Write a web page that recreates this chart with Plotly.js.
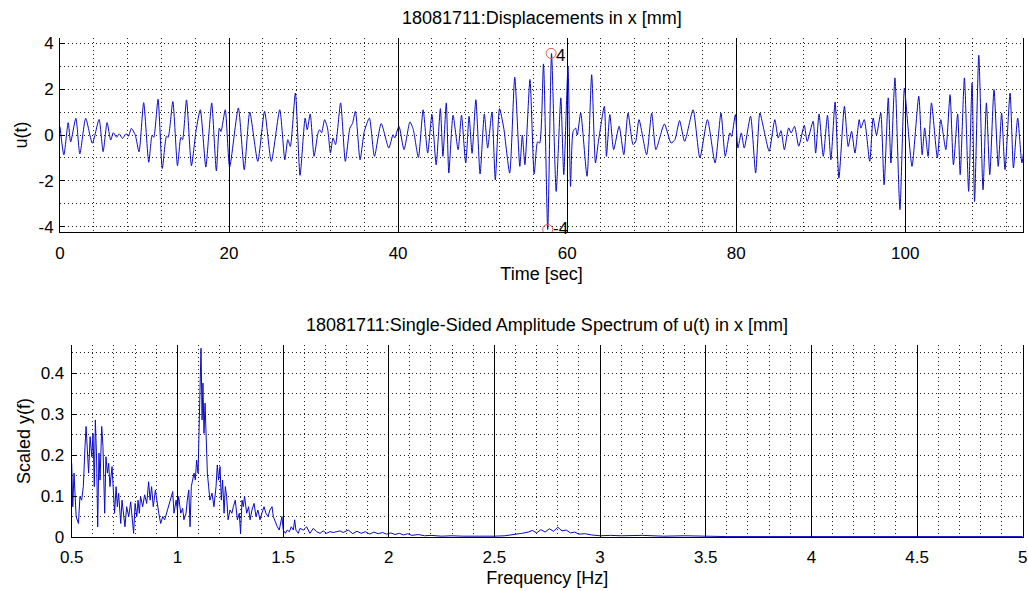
<!DOCTYPE html>
<html>
<head>
<meta charset="utf-8">
<script src="https://cdn.plot.ly/plotly-3.0.1.min.js"></script>
<style>html,body{margin:0;padding:0;background:#fff;}#chart{width:1028px;height:591px;}</style>
</head>
<body>
<div id="chart"></div>
<script>
// ---------- Displacement time history (peaks/troughs) ----------
const timeSec = [0,0.46,0.97,1.26,1.88,2.35,3.04,3.83,4.62,5.1,5.57,6.0,6.3,6.7,7.0,7.4,7.8,8.1,8.44,8.9,
9.35,9.9,10.5,10.9,11.1,11.6,12.1,12.6,12.8,13.35,13.9,14.3,14.5,14.97,15.55,16.1,16.6,17.25,17.6,17.95,
18.5,18.85,19.05,19.55,20.07,21.1,21.8,22.45,23.4,24.2,25.0,26.0,26.6,26.95,27.25,27.85,28.4,29.0,29.25,29.6,
30.06,30.5,30.7,30.95,31.3,31.65,32.0,32.3,32.6,33.2,33.76,34.3,34.6,34.95,35.5,36.0,36.6,37.2,38.0,38.9,
39.4,39.6,40.1,40.7,41.4,41.8,42.4,42.96,43.5,44.0,44.5,45.0,45.3,45.7,46.0,46.5,47.1,47.5,48.0,48.4,
48.75,49.2,49.7,50.2,50.6,51.1,51.5,52.0,52.5,53.2,53.8,54.4,54.7,55.0,55.6,56.1,56.5,56.75,57.2,57.7,
58.15,58.7,59.25,59.6,60.1,60.4,60.7,61.0,61.2,61.6,62.35,62.9,63.35,63.7,64.4,64.65,65.05,65.5,66.15,66.7,
67.2,67.8,68.1,68.5,69.4,70.0,70.5,71.5,72.3,72.75,73.3,73.9,74.9,75.7,76.6,77.5,78.2,78.7,79.25,79.45,
79.9,80.2,80.6,80.95,81.7,82.3,82.8,83.4,83.9,84.57,84.97,85.3,85.7,86.2,86.5,86.9,87.4,88.05,88.4,89.1,
89.4,89.8,90.3,90.8,91.2,91.7,92.15,92.8,93.25,93.65,94.05,94.55,94.75,95.15,95.8,96.2,96.6,97.1,97.5,97.99,
98.3,98.78,99.37,99.9,100.3,100.8,101.6,102.0,102.3,102.7,103.1,103.8,104.2,104.8,105.3,105.7,106.2,106.5,107.0,107.5,
107.9,108.2,108.7,109.2,109.6,110.0,110.5,111.0,111.4,111.8,112.4,112.8,113.3,113.8,114.1];
const dispX = [0.36,-0.87,0.54,-0.3,0.73,-0.83,0.73,-0.36,0.68,-0.73,0.54,-0.22,0.1,-0.1,0.05,-0.15,0.05,-0.05,0.29,0.0,
-0.73,1.41,-1.19,0.0,-0.1,1.56,-1.46,-0.05,-0.1,1.46,-1.34,-0.1,-0.2,1.53,-1.34,0.2,1.1,-1.4,0.0,1.4,
-1.57,0.3,0.15,1.1,-1.4,1.18,-1.51,1.0,-1.15,1.03,-1.15,1.1,-1.08,-0.2,-0.5,1.83,-1.76,0.74,0.23,0.92,
-0.93,0.05,0.23,0.1,0.67,0.3,-0.79,-0.13,-0.42,1.4,-1.15,0.3,0.5,1.03,-1.08,0.15,0.74,-0.93,0.5,-0.57,
0.01,-0.13,0.38,-0.64,0.57,0.23,-0.98,1.1,-0.79,0.89,-1.3,1.15,-0.93,1.4,-1.66,0.86,-0.64,0.86,-1.22,0.82,
-0.8,1.54,-1.7,0.92,-0.57,1.0,-1.95,1.15,0.3,-1.66,2.52,-1.37,0.0,-1.3,2.42,-1.7,-0.3,-0.35,3.1,-4.12,
3.55,-2.46,1.62,-1.73,3.0,-2.24,0.15,0.3,0.0,0.96,-1.8,2.63,-1.22,-0.28,1.25,-0.93,0.89,-0.64,0.38,-0.86,
0.96,-0.42,-0.3,0.67,-0.86,0.96,-0.64,0.48,-0.35,-0.2,0.63,-0.28,1.1,-1.0,0.67,-1.22,0.96,-0.93,0.09,-0.06,
0.89,-0.57,0.09,-0.57,0.82,-1.66,0.96,0.01,-0.71,0.67,-0.13,0.19,-0.64,0.31,0.09,0.38,-0.49,0.42,-0.28,0.6,
-0.79,0.92,-0.93,0.86,-1.08,1.44,-1.88,1.25,-0.5,0.16,-0.79,0.67,0.3,0.67,-1.15,0.74,0.0,0.96,-2.17,1.62,
-1.22,2.49,-3.26,2.05,0.45,-1.37,1.69,-0.86,0.31,-0.93,1.4,-1.0,0.67,-0.64,1.76,-1.3,0.92,-1.73,2.49,-2.46,
2.27,-2.9,3.48,-2.39,1.4,-1.73,1.98,-1.37,0.96,-1.51,1.83,-1.44,0.74,-1.22,-0.42];

// extreme-value markers
const extremeT = [58.1, 57.7];
const extremeU = [3.56, -4.12];
const extremeLabels = ["4", "-4"];
const extremeLabelT = [58.55, 58.15];
const extremeLabelU = [3.48, -4.06];

// ---------- Single-sided amplitude spectrum ----------
const freqHz = [0.500,0.505,0.511,0.521,0.532,0.539,0.547,0.555,0.563,0.568,0.574,0.580,0.587,0.595,0.601,0.607,0.612,0.618,0.623,0.629,
0.634,0.642,0.648,0.656,0.662,0.669,0.675,0.681,0.691,0.697,0.703,0.710,0.716,0.722,0.732,0.738,0.744,0.752,0.760,0.770,
0.779,0.785,0.793,0.800,0.808,0.814,0.820,0.826,0.836,0.845,0.855,0.864,0.871,0.878,0.886,0.896,0.902,0.912,0.921,0.931,
0.940,0.949,0.959,0.968,0.978,0.984,0.994,1.000,1.006,1.016,1.025,1.031,1.041,1.047,1.054,1.060,1.066,1.072,1.079,1.085,
1.091,1.098,1.104,1.109,1.112,1.117,1.121,1.126,1.131,1.136,1.142,1.148,1.154,1.164,1.173,1.183,1.189,1.195,1.202,1.208,
1.214,1.221,1.227,1.233,1.240,1.249,1.258,1.265,1.274,1.284,1.293,1.299,1.306,1.312,1.318,1.328,1.337,1.344,1.353,1.363,
1.372,1.381,1.391,1.400,1.410,1.419,1.429,1.438,1.448,1.454,1.463,1.473,1.482,1.490,1.495,1.501,1.511,1.520,1.530,1.539,
1.549,1.555,1.561,1.572,1.580,1.596,1.612,1.627,1.643,1.659,1.675,1.690,1.706,1.722,1.738,1.754,1.769,1.785,1.809,1.83,
1.85,1.87,1.89,1.91,1.93,1.95,1.97,1.99,2.01,2.03,2.05,2.07,2.09,2.11,2.14,2.17,2.2,2.25,2.3,2.35,
2.4,2.45,2.5,2.55,2.6,2.63,2.66,2.68,2.7,2.72,2.74,2.76,2.78,2.8,2.82,2.84,2.86,2.88,2.9,2.93,
2.96,3.0,3.05,3.1,3.2,3.3,3.4,3.5,3.6,3.8,4.0,4.5,5.0];
const ampScaled = [0.180,0.074,0.156,0.050,0.033,0.099,0.090,0.123,0.221,0.270,0.213,0.156,0.245,0.196,0.253,0.123,0.286,0.188,0.025,0.205,
0.139,0.270,0.221,0.058,0.196,0.156,0.180,0.123,0.172,0.107,0.058,0.123,0.074,0.107,0.033,0.090,0.066,0.025,0.074,0.050,
0.086,0.058,0.009,0.082,0.050,0.090,0.058,0.099,0.074,0.103,0.082,0.135,0.090,0.123,0.074,0.115,0.090,0.058,0.033,0.050,
0.042,0.058,0.074,0.090,0.111,0.058,0.090,0.066,0.099,0.058,0.070,0.042,0.058,0.090,0.115,0.025,0.123,0.139,0.156,0.139,
0.188,0.156,0.335,0.400,0.461,0.286,0.376,0.253,0.327,0.213,0.156,0.123,0.090,0.107,0.074,0.123,0.176,0.139,0.172,0.090,
0.139,0.058,0.123,0.099,0.042,0.066,0.058,0.074,0.090,0.042,0.058,0.009,0.090,0.074,0.099,0.058,0.074,0.042,0.066,0.082,
0.050,0.066,0.042,0.058,0.074,0.058,0.050,0.066,0.074,0.050,0.037,0.025,0.017,0.033,0.050,0.017,0.009,0.017,0.013,0.025,
0.017,0.042,0.017,0.009,0.021,0.017,0.025,0.009,0.021,0.013,0.009,0.015,0.009,0.013,0.011,0.013,0.015,0.011,0.017,0.008,
0.014,0.009,0.013,0.007,0.012,0.008,0.011,0.007,0.010,0.006,0.009,0.005,0.008,0.004,0.006,0.003,0.004,0.002,0.003,0.002,
0.002,0.001,0.002,0.003,0.006,0.009,0.012,0.016,0.010,0.018,0.012,0.020,0.014,0.024,0.015,0.017,0.010,0.012,0.007,0.008,
0.005,0.003,0.004,0.003,0.004,0.002,0.003,0.002,0.001,0.001,0.001,0.001,0.001];

const topYTicks = [-4, -2, 0, 2, 4];
const topYTickLabels = ["-4", "-2", "0", "2", "4"];

const FONT = 'Liberation Sans, Arial, Helvetica, sans-serif';
const DOT = '1px,3px';
const DOTCOL = '#222';

const traces = [
  {x: timeSec, y: dispX, type: 'scatter', mode: 'lines', xaxis: 'x', yaxis: 'y',
   line: {color: 'rgb(10,10,200)', width: 1, shape: 'spline', smoothing: 0.6}, hoverinfo: 'skip'},
  {x: extremeT, y: extremeU, type: 'scatter', mode: 'markers', xaxis: 'x', yaxis: 'y',
   marker: {symbol: 'circle-open', size: 10, color: 'rgb(230,90,90)', line: {width: 1, color: 'rgb(230,90,90)'}}, hoverinfo: 'skip'},
  {x: freqHz, y: ampScaled, type: 'scatter', mode: 'lines', xaxis: 'x2', yaxis: 'y2',
   line: {color: 'rgb(10,10,200)', width: 1}, hoverinfo: 'skip'}
];

const annotations = [
  {text: '18081711:Displacements in x [mm]', xref: 'paper', yref: 'paper', x: 0.5268, y: 1 - 18.5/591,
   xanchor: 'center', yanchor: 'middle', showarrow: false, font: {size: 18, family: FONT, color: '#000'}},
  {text: '18081711:Single-Sided Amplitude Spectrum of u(t) in x [mm]', xref: 'paper', yref: 'paper', x: 0.5323, y: 1 - 325/591,
   xanchor: 'center', yanchor: 'middle', showarrow: false, font: {size: 18, family: FONT, color: '#000'}}
];
extremeLabels.forEach((lab, i) => {
  annotations.push({text: lab, xref: 'x', yref: 'y', x: extremeLabelT[i], y: extremeLabelU[i],
    xanchor: 'left', yanchor: 'middle', showarrow: false, borderpad: 0,
    font: {size: 17, family: FONT, color: '#000'}});
});

const commonAxis = {
  showline: true, linecolor: '#000', linewidth: 1, zeroline: false,
  ticks: 'inside', ticklen: 5, tickcolor: '#000', tickwidth: 1,
  tickfont: {size: 17, family: FONT, color: '#000'}
};

const layout = {
  width: 1028, height: 591,
  margin: {l: 0, r: 0, t: 0, b: 0},
  paper_bgcolor: '#fff', plot_bgcolor: '#fff',
  showlegend: false,
  font: {family: FONT, size: 17, color: '#000'},
  annotations: annotations,
  xaxis: Object.assign({}, commonAxis, {
    domain: [60/1028, 1023/1028], range: [0, 113.93], anchor: 'y',
    tick0: 0, dtick: 20, showgrid: true, gridcolor: '#000', gridwidth: 1, ticklabelstandoff: 6,
    minor: {dtick: 4, showgrid: true, gridcolor: DOTCOL, griddash: DOT, gridwidth: 1, ticks: ''},
    title: {text: 'Time [sec]', font: {size: 18, family: FONT, color: '#000'}, standoff: 4}
  }),
  yaxis: Object.assign({}, commonAxis, {
    domain: [1 - 232/591, 1 - 38/591], range: [-4.23, 4.23], anchor: 'x', mirror: true,
    tickmode: 'array', tickvals: topYTicks, ticktext: topYTickLabels, ticklabelstandoff: 2,
    showgrid: true, gridcolor: DOTCOL, griddash: DOT, gridwidth: 1,
    minor: {dtick: 1, showgrid: true, gridcolor: DOTCOL, griddash: DOT, gridwidth: 1, ticks: ''},
    title: {text: 'u(t)', font: {size: 18, family: FONT, color: '#000'}, standoff: 6}
  }),
  xaxis2: Object.assign({}, commonAxis, {
    domain: [71.7/1028, 1022.7/1028], range: [0.5, 5], anchor: 'y2',
    tick0: 0.5, dtick: 0.5, showgrid: true, gridcolor: '#000', gridwidth: 1, ticklabelstandoff: 5,
    minor: {dtick: 0.1, showgrid: true, gridcolor: DOTCOL, griddash: DOT, gridwidth: 1, ticks: ''},
    title: {text: 'Frequency [Hz]', font: {size: 18, family: FONT, color: '#000'}, standoff: 4}
  }),
  yaxis2: Object.assign({}, commonAxis, {
    domain: [1 - 537/591, 1 - 345/591], range: [0, 0.469], anchor: 'x2', mirror: true,
    tick0: 0, dtick: 0.1, ticklabelstandoff: 3,
    showgrid: true, gridcolor: DOTCOL, griddash: DOT, gridwidth: 1,
    minor: {dtick: 0.05, showgrid: true, gridcolor: DOTCOL, griddash: DOT, gridwidth: 1, ticks: ''},
    title: {text: 'Scaled y(f)', font: {size: 18, family: FONT, color: '#000'}, standoff: 5}
  })
};

Plotly.newPlot('chart', traces, layout, {displayModeBar: false, staticPlot: true});
</script>
</body>
</html>
